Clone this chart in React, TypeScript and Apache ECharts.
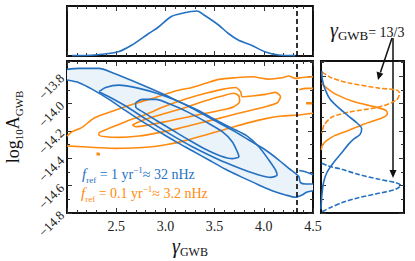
import React, { useEffect, useRef } from 'react';
import * as echarts from 'echarts';

const BLUE = '#2471c2';
const ORANGE = '#ff8a10';
const FILL = '#eaf2fa';
const SERIF = 'Liberation Serif';

// axis ranges / ticks
const gammaRange = [2.0, 4.5];
const logARange = [-14.8, -13.69];
const gammaLine = 13 / 3;

// top marginal (gamma posterior, f_ref = 1/yr)
const gammaMarginal: number[][] = [
  [2.05, 0.007], [2.28, 0.02], [2.52, 0.086], [2.66, 0.22], [2.83, 0.45], [2.93, 0.58],
  [3.06, 0.79], [3.16, 0.85], [3.32, 0.9], [3.4, 0.81], [3.54, 0.62], [3.64, 0.45],
  [3.74, 0.32], [3.88, 0.21], [4.01, 0.086], [4.15, 0.02], [4.32, 0.007],
];

// blue 2D contours (f_ref = 1/yr)
const blueOuterUpper: number[][] = [
  [2.0, -13.751], [2.122, -13.744], [2.325, -13.744], [2.461, -13.775], [2.664, -13.834],
  [2.867, -13.897], [3.07, -13.963], [3.273, -14.036], [3.476, -14.116], [3.679, -14.194],
  [3.848, -14.267], [4.017, -14.34], [4.153, -14.413], [4.254, -14.474], [4.322, -14.51],
  [4.356, -14.535], [4.373, -14.578], [4.424, -14.588], [4.5, -14.588],
];
const blueOuterLower: number[][] = [
  [4.5, -14.637], [4.44, -14.646], [4.39, -14.668], [4.322, -14.685], [4.221, -14.668],
  [4.085, -14.637], [3.95, -14.595], [3.781, -14.54], [3.611, -14.481], [3.442, -14.413],
  [3.273, -14.345], [3.104, -14.279], [2.935, -14.206], [2.765, -14.133], [2.596, -14.053],
  [2.427, -13.97], [2.258, -13.897], [2.122, -13.848], [2.0, -13.829],
];
const blueMiddle: number[][] = [
  [2.325, -13.914], [2.393, -13.883], [2.528, -13.866], [2.732, -13.89], [2.935, -13.931],
  [3.138, -13.987], [3.341, -14.053], [3.51, -14.121], [3.679, -14.182], [3.831, -14.238],
  [3.95, -14.316], [4.051, -14.413], [4.119, -14.486], [4.136, -14.523], [4.068, -14.54],
  [3.95, -14.523], [3.781, -14.481], [3.611, -14.432], [3.442, -14.376], [3.273, -14.316],
  [3.104, -14.248], [2.935, -14.175], [2.765, -14.097], [2.596, -14.019], [2.427, -13.951],
  [2.325, -13.914],
];
const blueInner: number[][] = [
  [2.698, -13.994], [2.765, -13.97], [2.901, -13.97], [3.07, -14.012], [3.239, -14.067],
  [3.408, -14.133], [3.578, -14.206], [3.679, -14.279], [3.73, -14.352], [3.747, -14.389],
  [3.679, -14.403], [3.561, -14.384], [3.408, -14.335], [3.239, -14.267], [3.07, -14.194],
  [2.901, -14.121], [2.765, -14.06], [2.698, -14.024], [2.698, -13.994],
];
const blueEdgeBit: number[][] = [[4.36, -14.49], [4.43, -14.5], [4.5, -14.52]];

// orange 2D contours (f_ref = 0.1/yr)
const orangeOuterTop: number[][] = [
  [2.0, -14.238], [2.055, -14.206], [2.149, -14.177], [2.281, -14.104], [2.495, -14.048],
  [2.698, -13.999], [2.901, -13.956], [3.104, -13.909], [3.273, -13.883], [3.408, -13.853],
  [3.544, -13.824], [3.713, -13.812], [3.882, -13.805], [4.051, -13.822], [4.187, -13.812],
  [4.254, -13.8], [4.322, -13.817], [4.39, -13.81], [4.5, -13.805],
];
const orangeOuterBottom: number[][] = [
  [4.5, -14.072], [4.356, -14.084], [4.187, -14.092], [4.017, -14.111], [3.848, -14.14],
  [3.679, -14.174], [3.51, -14.209], [3.341, -14.243], [3.171, -14.277], [3.002, -14.301],
  [2.833, -14.318], [2.664, -14.325], [2.495, -14.328], [2.325, -14.323], [2.156, -14.316],
  [2.0, -14.311],
];
const orangeMiddle: number[][] = [
  [2.325, -14.213], [2.427, -14.182], [2.596, -14.133], [2.799, -14.08], [3.002, -14.019],
  [3.205, -13.968], [3.408, -13.926], [3.578, -13.897], [3.713, -13.883], [3.764, -13.914],
  [3.781, -13.951], [3.882, -13.946], [4.017, -13.934], [4.119, -13.919], [4.17, -13.951],
  [4.136, -13.995], [4.017, -14.024], [3.882, -14.048], [3.713, -14.077], [3.544, -14.109],
  [3.341, -14.145], [3.138, -14.182], [2.935, -14.213], [2.732, -14.238], [2.528, -14.248],
  [2.393, -14.243], [2.325, -14.23], [2.325, -14.213],
];
const orangeInner: number[][] = [
  [2.664, -14.157], [2.799, -14.116], [3.002, -14.072], [3.205, -14.029], [3.408, -13.98],
  [3.578, -13.946], [3.696, -13.926], [3.747, -13.946], [3.754, -13.987], [3.696, -14.024],
  [3.578, -14.048], [3.408, -14.072], [3.205, -14.102], [3.002, -14.133], [2.833, -14.157],
  [2.698, -14.17], [2.664, -14.157],
];
const orangeBits: number[][][] = [
  [[2.3, -14.368], [2.335, -14.372]],
  [[4.36, -13.9], [4.43, -13.89], [4.5, -13.89]],
  [[4.43, -13.999], [4.49, -13.999]],
];

// right marginals (log10 A), density on x
const blueSolidA: number[][] = [
  [0.01, -13.764], [0.016, -13.824], [0.05, -13.897], [0.11, -13.97], [0.21, -14.031],
  [0.33, -14.092], [0.43, -14.141], [0.49, -14.184], [0.47, -14.226], [0.39, -14.262],
  [0.33, -14.299], [0.25, -14.36], [0.15, -14.433], [0.07, -14.506], [0.03, -14.579],
  [0.01, -14.676], [0.0, -14.773],
];
const orangeSolidA: number[][] = [
  [0.01, -13.85], [0.03, -13.868], [0.17, -13.93], [0.41, -13.99], [0.66, -14.026],
  [0.78, -14.05], [0.8, -14.075], [0.74, -14.104], [0.53, -14.148], [0.33, -14.197],
  [0.17, -14.233], [0.07, -14.27], [0.016, -14.306], [0.005, -14.34],
];
const orangeDashedA: number[][] = [
  [0.012, -13.771], [0.134, -13.815], [0.34, -13.851], [0.7, -13.888], [0.91, -13.902],
  [0.947, -13.924], [0.91, -13.975], [0.7, -14.026], [0.34, -14.063], [0.134, -14.099],
  [0.036, -14.158], [0.012, -14.216],
];
const blueDashedA: number[][] = [
  [0.008, -14.437], [0.09, -14.457], [0.25, -14.481], [0.45, -14.518], [0.7, -14.554],
  [0.9, -14.579], [0.96, -14.598], [0.9, -14.627], [0.7, -14.656], [0.45, -14.688],
  [0.25, -14.725], [0.11, -14.761], [0.03, -14.785], [0.0, -14.798],
];

const tickLine = { color: '#333', width: 1 };

function xAx(gridIndex: number, position: string, labels: boolean) {
  return {
    type: 'value', gridIndex, position, min: gammaRange[0], max: gammaRange[1], interval: 0.5,
    axisLine: { show: false },
    axisTick: { show: true, inside: true, length: 5, lineStyle: tickLine },
    minorTick: { show: true, splitNumber: 5, length: 3, lineStyle: tickLine },
    splitLine: { show: false }, minorSplitLine: { show: false },
    axisLabel: labels
      ? { show: true, showMinLabel: false, showMaxLabel: true, margin: 6, fontFamily: SERIF, fontSize: 14, color: '#222',
          formatter: (v: number) => v.toFixed(1) }
      : { show: false },
  };
}
function yAx(gridIndex: number, position: string, labels: boolean) {
  return {
    type: 'value', gridIndex, position, min: logARange[0], max: logARange[1], interval: 0.2,
    axisLine: { show: false },
    axisTick: { show: true, inside: true, length: 5, lineStyle: tickLine },
    minorTick: { show: true, splitNumber: 2, length: 3, lineStyle: tickLine },
    splitLine: { show: false }, minorSplitLine: { show: false },
    axisLabel: labels
      ? { show: true, showMaxLabel: false, rotate: 45, margin: 5, fontFamily: SERIF, fontSize: 13, color: '#222',
          formatter: (v: number) => (v < 0 ? '\u2212' : '') + Math.abs(v).toFixed(1) }
      : { show: false },
  };
}

function line(data: number[][], color: string, xi: number, yi: number, extra: any = {}) {
  return {
    type: 'line', data, xAxisIndex: xi, yAxisIndex: yi, showSymbol: false, symbol: 'none',
    smooth: 0.25, silent: true, clip: true,
    lineStyle: { color, width: 1.6, ...(extra.lineStyle || {}) },
  };
}

const dashedMark = {
  symbol: ['none', 'none'], silent: true, label: { show: false },
  lineStyle: { color: '#000', type: [5, 3], width: 1.6 },
  data: [{ xAxis: gammaLine }],
};

export default function App() {
  const ref = useRef<HTMLDivElement>(null);
  useEffect(() => {
    const chart = echarts.init(ref.current!, null, { renderer: 'svg' });
    const gridStyle = { show: true, borderColor: '#111', borderWidth: 2, backgroundColor: 'transparent' };
    const subS = (size: number, color: string, pad = 0) => ({ fontFamily: SERIF, fontSize: size, fill: color, verticalAlign: 'bottom', padding: [0, 0, pad, 0] });
    const mainS = (size: number, color: string, italic = false, pad = 3) => ({ fontFamily: SERIF, fontSize: size, fill: color, fontStyle: italic ? 'italic' : 'normal', verticalAlign: 'bottom', padding: [0, 0, pad, 0] });
    const option: any = {
      animation: false,
      backgroundColor: '#fff',
      textStyle: { fontFamily: SERIF },
      grid: [
        { left: 67, top: 6, width: 246, height: 50, ...gridStyle },
        { left: 67, top: 61, width: 246, height: 152, ...gridStyle },
        { left: 321, top: 61, width: 83, height: 152, ...gridStyle },
      ],
      xAxis: [
        xAx(0, 'bottom', false),
        xAx(0, 'top', false),
        xAx(1, 'bottom', true),
        xAx(1, 'top', false),
        { type: 'value', gridIndex: 2, min: 0, max: 1, show: false },
      ],
      yAxis: [
        { type: 'value', gridIndex: 0, min: 0, max: 1, show: false },
        yAx(1, 'left', true),
        yAx(1, 'right', false),
        yAx(2, 'left', false),
        yAx(2, 'right', false),
      ],
      series: [
        { ...line(gammaMarginal, BLUE, 0, 0), smooth: 0.3, markLine: dashedMark },
        {
          type: 'custom', xAxisIndex: 2, yAxisIndex: 1, silent: true, clip: true,
          data: [[3.2, -14.2]],
          renderItem: (_p: any, api: any) => ({
            type: 'polygon',
            shape: { points: [...blueOuterUpper, ...blueOuterLower].map((p) => api.coord(p)) },
            style: { fill: FILL, stroke: 'none' },
          }),
        },
        line(orangeOuterTop, ORANGE, 2, 1),
        line(orangeOuterBottom, ORANGE, 2, 1),
        line(orangeMiddle, ORANGE, 2, 1),
        line(orangeInner, ORANGE, 2, 1),
        line(orangeBits[0], ORANGE, 2, 1, { lineStyle: { width: 3 } }),
        line(orangeBits[1], ORANGE, 2, 1),
        line(orangeBits[2], ORANGE, 2, 1, { lineStyle: { width: 2.5 } }),
        line(blueOuterUpper, BLUE, 2, 1),
        line(blueOuterLower, BLUE, 2, 1),
        line(blueMiddle, BLUE, 2, 1),
        line(blueInner, BLUE, 2, 1),
        line(blueEdgeBit, BLUE, 2, 1),
        { ...line([[gammaLine, -14.8], [gammaLine, -14.8]], 'transparent', 2, 1), markLine: dashedMark },
        line(orangeDashedA, ORANGE, 4, 3, { lineStyle: { type: [5, 2] } }),
        line(orangeSolidA, ORANGE, 4, 3),
        line(blueSolidA, BLUE, 4, 3),
        line(blueDashedA, BLUE, 4, 3, { lineStyle: { type: [5, 2] } }),
      ],
      graphic: [
        {
          type: 'text', x: 14, y: 127, rotation: Math.PI / 2,
          style: {
            text: '{m|log}{s|10}{m|A}{s|GWB}', align: 'center', verticalAlign: 'middle',
            rich: { m: mainS(18, '#111', false, 3), s: subS(11, '#111') },
          },
        },
        {
          type: 'text', x: 190, y: 247,
          style: {
            text: '{g|\u03b3}{s|GWB}', align: 'center', verticalAlign: 'middle',
            rich: { g: mainS(20, '#111', true, 2), s: subS(12, '#111') },
          },
        },
        {
          type: 'text', x: 82, y: 175,
          style: {
            text: '{f|f}{r|ref}{t| = 1 yr}{u|\u22121}{t|\u2248 32 nHz}', align: 'left', verticalAlign: 'middle',
            rich: { f: mainS(15, BLUE, true, 3), r: subS(9, BLUE), t: mainS(14, BLUE, false, 3), u: subS(9, BLUE, 10) },
          },
        },
        {
          type: 'text', x: 81, y: 194,
          style: {
            text: '{f|f}{r|ref}{t| = 0.1 yr}{u|\u22121}{t|\u2248 3.2 nHz}', align: 'left', verticalAlign: 'middle',
            rich: { f: mainS(15, ORANGE, true, 3), r: subS(9, ORANGE), t: mainS(14, ORANGE, false, 3), u: subS(9, ORANGE, 10) },
          },
        },
        {
          type: 'text', x: 330, y: 31,
          style: {
            text: '{g|\u03b3}{s|GWB}{t|= 13/3}', align: 'left', verticalAlign: 'middle',
            rich: { g: mainS(20, '#111', true, 2), s: subS(13, '#111'), t: mainS(14, '#111', false, 3) },
          },
        },
        { type: 'line', shape: { x1: 392, y1: 38, x2: 380.4, y2: 72.6 }, style: { stroke: '#111', lineWidth: 1.5 } },
        { type: 'polygon', shape: { points: [[378, 80], [383.3, 73.8], [376.6, 71.6]] }, style: { fill: '#111' } },
        { type: 'line', shape: { x1: 393, y1: 38, x2: 393, y2: 171 }, style: { stroke: '#111', lineWidth: 1.5 } },
        { type: 'polygon', shape: { points: [[393, 178], [389.5, 170], [396.5, 170]] }, style: { fill: '#111' } },
      ],
    };
    chart.setOption(option);
    return () => chart.dispose();
  }, []);
  return <div ref={ref} style={{ position: 'fixed', left: 0, top: 0, width: 415, height: 261, background: '#fff' }} />;
}
